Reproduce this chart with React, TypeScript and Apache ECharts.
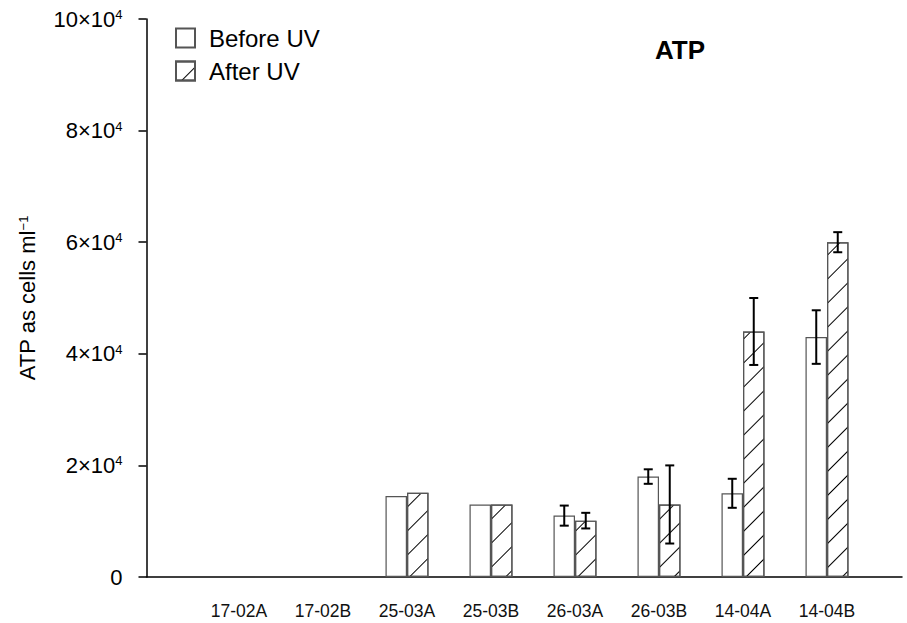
import React, { useEffect, useRef } from "react";
import * as echarts from "echarts";

const categories = ["17-02A", "17-02B", "25-03A", "25-03B", "26-03A", "26-03B", "14-04A", "14-04B"];
const beforeUV: (number | null)[] = [null, null, 14500, 13000, 11000, 18000, 15000, 43000];
const afterUV: (number | null)[] = [null, null, 15100, 13000, 10100, 13000, 44000, 60000];
const beforeErr: (number | null)[] = [null, null, null, null, 1800, 1300, 2600, 4800];
const afterErr: (number | null)[] = [null, null, null, null, 1400, 7000, 6000, 1800];
const yTicks = [0, 20000, 40000, 60000, 80000, 100000];

const FONT = "'Liberation Sans', Arial, sans-serif";
const BAR_W = 21.5;

function errData(vals: (number | null)[], errs: (number | null)[]) {
  const out: any[] = [];
  vals.forEach((v, i) => {
    const e = errs[i];
    if (v != null && e != null) out.push([i, v, e]);
  });
  return out;
}

function errRender(offset: number) {
  return (params: any, api: any) => {
    const i = api.value(0);
    const v = api.value(1);
    const e = api.value(2);
    const top = api.coord([i, v + e]);
    const bot = api.coord([i, v - e]);
    const x = top[0] + offset;
    const cap = 4.5;
    const style = { stroke: "#000", lineWidth: 2 };
    return {
      type: "group",
      children: [
        { type: "line", shape: { x1: x, y1: top[1], x2: x, y2: bot[1] }, style },
        { type: "line", shape: { x1: x - cap, y1: top[1], x2: x + cap, y2: top[1] }, style },
        { type: "line", shape: { x1: x - cap, y1: bot[1], x2: x + cap, y2: bot[1] }, style },
      ],
    };
  };
}

export default function App() {
  const ref = useRef<HTMLDivElement>(null);
  useEffect(() => {
    if (!ref.current) return;
    const chart = echarts.init(ref.current, null, { renderer: "svg" });
    const yMin = yTicks[0];
    const yMax = yTicks[yTicks.length - 1];
    const interval = yTicks[1] - yTicks[0];
    const decal = {
      symbol: "rect",
      symbolSize: 1,
      color: "#000",
      backgroundColor: null,
      dashArrayX: [1, 0],
      dashArrayY: [1, 16],
      rotation: -Math.PI / 4,
    };
    chart.setOption({
      animation: false,
      backgroundColor: "#fff",
      textStyle: { fontFamily: FONT },
      title: {
        text: "ATP",
        left: 650,
        top: 32,
        textStyle: { fontSize: 26, fontWeight: "bold", color: "#000", fontFamily: FONT },
      },
      legend: {
        orient: "vertical",
        left: 170,
        top: 21,
        itemWidth: 19,
        itemHeight: 19,
        itemGap: 9,
        icon: "rect",
        textStyle: { fontSize: 24, color: "#000", fontFamily: FONT, padding: [0, 0, 0, 9] },
        data: ["Before UV", "After UV"],
      },
      grid: [
        { left: 146.5, right: 5, top: 19, bottom: 46, containLabel: false },
        { left: 197, right: 38, top: 19, bottom: 46, containLabel: false },
      ],
      xAxis: [
        {
          type: "value",
          gridIndex: 0,
          min: 0,
          max: 1,
          axisLine: { show: true, onZero: false, lineStyle: { color: "#000", width: 1.5 } },
          axisTick: { show: false },
          axisLabel: { show: false },
          splitLine: { show: false },
        },
        {
          type: "category",
          gridIndex: 1,
          data: categories,
          axisLine: { show: false },
          axisTick: { show: false },
          splitLine: { show: false },
          axisLabel: { fontSize: 17.5, color: "#111", margin: 25, fontFamily: FONT },
        },
      ],
      yAxis: [
        {
          type: "value",
          gridIndex: 0,
          min: yMin,
          max: yMax,
          interval,
          name: "{a|ATP as cells ml}{s|−1}",
          nameLocation: "middle",
          nameRotate: 90,
          nameGap: 108,
          nameTextStyle: {
            rich: {
              a: { fontSize: 22, color: "#000", fontFamily: FONT },
              s: { fontSize: 13, color: "#000", fontFamily: FONT, verticalAlign: "top", lineHeight: 12 },
            },
          },
          axisLine: { show: true, lineStyle: { color: "#000", width: 1.5 } },
          axisTick: { show: true, length: 8, inside: false, lineStyle: { color: "#000", width: 1.5 } },
          splitLine: { show: false },
          axisLabel: {
            margin: 24,
            formatter: (v: number) => (v === 0 ? "{a|0}" : `{a|${v / 10000}×10}{s|4}`),
            rich: {
              a: { fontSize: 22, color: "#000", fontFamily: FONT },
              s: { fontSize: 13, color: "#000", fontFamily: FONT, verticalAlign: "top", lineHeight: 12 },
            },
          },
        },
        {
          type: "value",
          gridIndex: 1,
          min: yMin,
          max: yMax,
          interval,
          show: false,
        },
      ],
      series: [
        {
          name: "Before UV",
          type: "bar",
          xAxisIndex: 1,
          yAxisIndex: 1,
          barWidth: BAR_W,
          barGap: "0%",
          data: beforeUV.map((v) => (v == null ? "-" : v)),
          itemStyle: { color: "#fff", borderColor: "#555", borderWidth: 1.2 },
        },
        {
          name: "After UV",
          type: "bar",
          xAxisIndex: 1,
          yAxisIndex: 1,
          barWidth: BAR_W,
          barGap: "0%",
          data: afterUV.map((v) => (v == null ? "-" : v)),
          itemStyle: { color: "#fff", borderColor: "#555", borderWidth: 1.2, decal },
        },
        {
          type: "custom",
          xAxisIndex: 1,
          yAxisIndex: 1,
          renderItem: errRender(-BAR_W / 2),
          data: errData(beforeUV, beforeErr),
          z: 5,
        },
        {
          type: "custom",
          xAxisIndex: 1,
          yAxisIndex: 1,
          renderItem: errRender(BAR_W / 2),
          data: errData(afterUV, afterErr),
          z: 5,
        },
      ],
    });
    return () => chart.dispose();
  }, []);
  return (
    <div
      ref={ref}
      style={{ position: "fixed", left: 0, top: 0, width: 907, height: 623, background: "#fff" }}
    />
  );
}
